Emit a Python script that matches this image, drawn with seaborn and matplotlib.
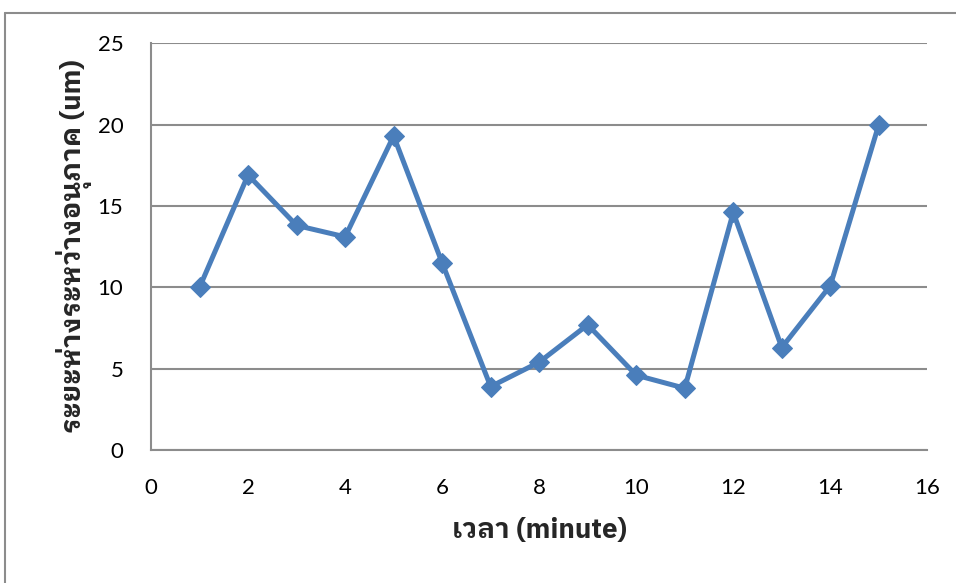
import matplotlib
matplotlib.use("Agg")
import matplotlib.pyplot as plt
import seaborn as sns
import pandas as pd
from matplotlib.lines import Line2D

# data
minutes = [1, 2, 3, 4, 5, 6, 7, 8, 9, 10, 11, 12, 13, 14, 15]
distance_um = [10.0, 16.9, 13.8, 13.1, 19.3, 11.5, 3.9, 5.4, 7.7, 4.6, 3.8, 14.6, 6.3, 10.1, 20.0]
x_ticks = [0, 2, 4, 6, 8, 10, 12, 14, 16]
y_ticks = [0, 5, 10, 15, 20, 25]
x_label = "เวลา (minute)"
y_label = "ระยะห่างระหว่างอนุภาค (um)"

sns.set_style("white")
plt.rcParams["font.family"] = ["Lato", "IBM Plex Sans Thai Looped", "DejaVu Sans"]
# labels: one Thai face (bold) for both scripts, so the weight matches
label_fonts = ["IBM Plex Sans Thai Looped", "IBM Plex Sans Thai", "Lato", "DejaVu Sans"]

df = pd.DataFrame({"minute": minutes, "distance": distance_um})

fig = plt.figure(figsize=(9.56, 5.83), dpi=100)
ax = fig.add_axes([0.158, 0.228, 0.812, 0.698])

sns.lineplot(data=df, x="minute", y="distance", ax=ax, color="#4A7EBB",
             linewidth=3.6, marker="D", markersize=10,
             markeredgecolor="#4A7EBB", zorder=3)

ax.set_xlim(0, 16)
ax.set_ylim(0, 25)
ax.set_xticks(x_ticks)
ax.set_yticks(y_ticks)
ax.yaxis.grid(True, color="#8C8C8C", linewidth=1.5)
ax.xaxis.grid(False)
for side in ["top", "right"]:
    ax.spines[side].set_visible(False)
for side in ["left", "bottom"]:
    ax.spines[side].set_color("#8C8C8C")
    ax.spines[side].set_linewidth(1.5)
ax.tick_params(axis="both", length=0, labelsize=16, colors="black")
ax.tick_params(axis="x", pad=20)
ax.tick_params(axis="y", pad=20)

ax.set_xlabel(x_label, fontsize=20, fontweight="bold", labelpad=14, family=label_fonts)
ax.set_ylabel(y_label, fontsize=20, fontweight="bold", labelpad=4, family=label_fonts)

# outer chart frame
fig.add_artist(Line2D([5 / 956, 5 / 956], [0, 1 - 13 / 583], color="#8C8C8C", linewidth=1.5))
fig.add_artist(Line2D([5 / 956, 1], [1 - 13 / 583, 1 - 13 / 583], color="#8C8C8C", linewidth=1.5))

fig.savefig("out.png", dpi=100)
